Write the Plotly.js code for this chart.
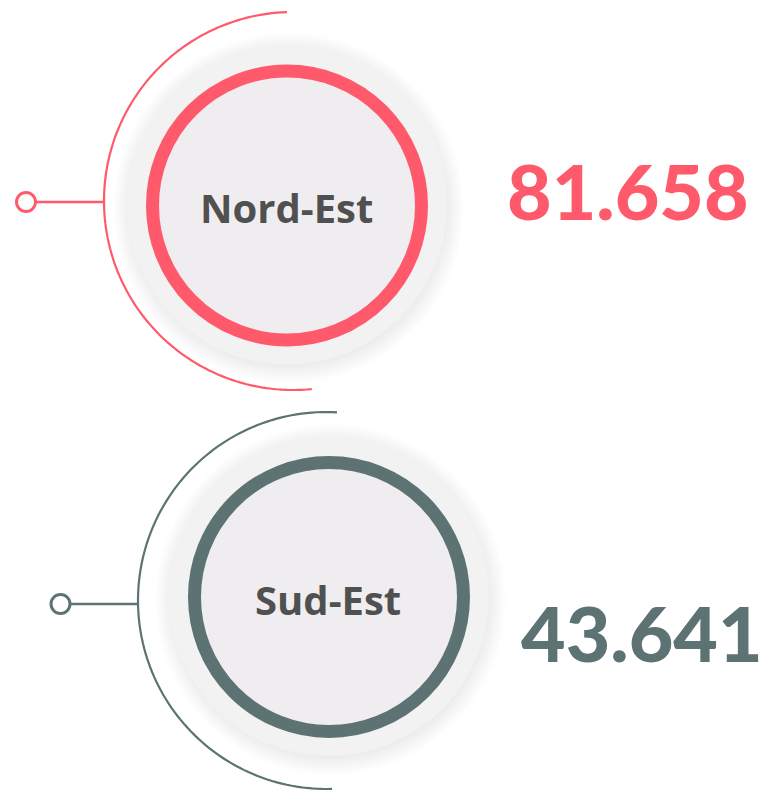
<!DOCTYPE html>
<html>
<head>
<meta charset="utf-8">
<script src="https://cdn.plot.ly/plotly-3.0.1.min.js"></script>
<style>
  html, body { margin: 0; padding: 0; background: #ffffff; }
  #chart { width: 766px; height: 791px; }
</style>
</head>
<body>
<div id="chart"></div>
<script>
// ---- data ----
const regions = ['Nord-Est', 'Sud-Est'];
const values = [81658, 43641];
const colors = ['#FF5A6B', '#5D7373'];

// ---- layout geometry (pixel space) ----
const geo = [
  { cx: 287, cy: 205.5, arc: { cx: 293, cy: 201, r: 189, a0: 91.8, a1: 275.7 },
    dot: { x: 26, y: 202 }, line: [36, 104], num: { x: 628, y: 190 } },
  { cx: 329, cy: 597, arc: { cx: 326.5, cy: 600.5, r: 188.5, a0: 86.8, a1: 271.7 },
    dot: { x: 60.5, y: 604 }, line: [70, 139], num: { x: 642, y: 632 } }
];

function fmt(v) {
  return String(v).replace(/\B(?=(\d{3})+(?!\d))/g, '.');
}

function arcPath(a) {
  const n = 120;
  let d = '';
  for (let i = 0; i <= n; i++) {
    const t = (a.a0 + (a.a1 - a.a0) * i / n) * Math.PI / 180;
    const x = a.cx + a.r * Math.cos(t);
    const y = a.cy - a.r * Math.sin(t);
    d += (i === 0 ? 'M' : 'L') + x.toFixed(2) + ',' + y.toFixed(2);
  }
  return d;
}

function circ(cx, cy, r, extra) {
  return Object.assign({ type: 'circle', xref: 'x', yref: 'y',
    x0: cx - r, x1: cx + r, y0: cy - r, y1: cy + r, layer: 'above' }, extra);
}

const shapes = [];
const annotations = [];

regions.forEach((name, i) => {
  const g = geo[i];
  const col = colors[i];
  // soft shadow
  const steps = 20;
  for (let k = steps; k >= 1; k--) {
    shapes.push(circ(g.cx + 1.5, g.cy + 2.5, 156 + k * 1.0, {
      fillcolor: 'rgba(0,0,0,0.0055)', line: { width: 0 } }));
  }
  // halo
  shapes.push(circ(g.cx, g.cy - 1, 160, { fillcolor: '#F2F2F2', line: { width: 0 } }));
  // ring + inner fill
  shapes.push(circ(g.cx, g.cy, 134.5, { fillcolor: '#EFEDF0', line: { color: col, width: 13 } }));
  // outer arc
  shapes.push({ type: 'path', xref: 'x', yref: 'y', path: arcPath(g.arc),
    line: { color: col, width: 2.2 }, layer: 'above' });
  // connector
  shapes.push({ type: 'line', xref: 'x', yref: 'y', x0: g.line[0], x1: g.line[1],
    y0: g.dot.y, y1: g.dot.y, line: { color: col, width: 2.5 }, layer: 'above' });
  shapes.push(circ(g.dot.x, g.dot.y, 9.5, { fillcolor: '#FFFFFF', line: { color: col, width: 3 } }));

  annotations.push({ x: g.cx - 1, y: g.cy + 2, xref: 'x', yref: 'y', text: name,
    showarrow: false, xanchor: 'center', yanchor: 'middle',
    font: { family: 'Open Sans, Noto Sans, sans-serif', size: 40, color: '#505050', weight: 700 } });
  annotations.push({ x: g.num.x, y: g.num.y, xref: 'x', yref: 'y', text: fmt(values[i]),
    showarrow: false, xanchor: 'center', yanchor: 'middle',
    font: { family: 'Lato, sans-serif', size: 77, color: col, weight: 900 } });
});

const layout = {
  width: 766, height: 791,
  margin: { l: 0, r: 0, t: 0, b: 0, pad: 0 },
  paper_bgcolor: '#FFFFFF', plot_bgcolor: '#FFFFFF',
  showlegend: false,
  xaxis: { range: [0, 766], visible: false, fixedrange: true },
  yaxis: { range: [791, 0], visible: false, fixedrange: true },
  shapes: shapes,
  annotations: annotations
};

Plotly.newPlot('chart', [{ x: [], y: [], type: 'scatter', hoverinfo: 'skip' }], layout,
  { staticPlot: true, displayModeBar: false });
</script>
</body>
</html>
